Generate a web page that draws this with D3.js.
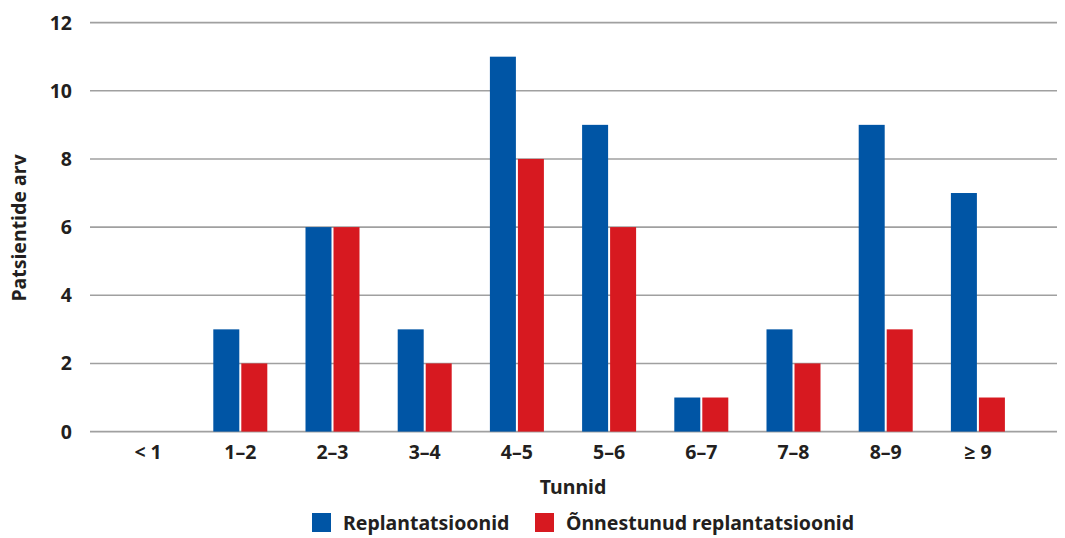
<!DOCTYPE html>
<html>
<head>
<meta charset="utf-8">
<script src="https://cdn.jsdelivr.net/npm/d3@7"></script>
<style>
  html, body { margin: 0; padding: 0; background: #fff; }
  text { font-family: "Noto Sans", "Open Sans", sans-serif; font-weight: 700; fill: #231f20; }
</style>
</head>
<body>
<svg id="chart" width="1065" height="538"></svg>
<script>
// Hours-to-replantation categories and patient counts
const categories = ["< 1", "1–2", "2–3", "3–4", "4–5", "5–6", "6–7", "7–8", "8–9", "≥ 9"];
const replantations = [0, 3, 6, 3, 11, 9, 1, 3, 9, 7];
const successful = [0, 2, 6, 2, 8, 6, 1, 2, 3, 1];
const yTicks = [0, 2, 4, 6, 8, 10, 12];
const seriesNames = ["Replantatsioonid", "Õnnestunud replantatsioonid"];
const seriesColors = ["#0055a5", "#d71920"];

const svg = d3.select("#chart");
const fs = 19.5;

const gridLeft = 90, gridRight = 1057;
const x = d3.scaleBand().domain(categories).range([102, 1024]);
const y = d3.scaleLinear().domain([0, 12]).range([431.6, 22.6]);

const barW = 26, gap = 2;

// horizontal gridlines
svg.append("g").selectAll("line").data(yTicks).join("line")
  .attr("x1", gridLeft).attr("x2", gridRight)
  .attr("y1", d => y(d)).attr("y2", d => y(d))
  .attr("stroke", "#a0a0a0").attr("stroke-width", 1.6);

// y tick labels
svg.append("g").selectAll("text").data(yTicks).join("text")
  .attr("x", 72).attr("y", d => y(d)).attr("dy", "0.36em")
  .attr("text-anchor", "end").attr("font-size", fs)
  .text(d => d);

// bars
const rows = categories.map((c, i) => ({ c, vals: [replantations[i], successful[i]] }));
const groups = svg.append("g").selectAll("g").data(rows).join("g")
  .attr("transform", d => `translate(${x(d.c) + x.bandwidth() / 2},0)`);
groups.selectAll("rect").data(d => d.vals.filter(v => v > 0).map((v, k) => ({ v, k })))
  .join("rect")
  .attr("x", d => d.k === 0 ? -barW - gap / 2 : gap / 2)
  .attr("width", barW)
  .attr("y", d => y(d.v))
  .attr("height", d => y(0) - y(d.v))
  .attr("fill", d => seriesColors[d.k]);

// x tick labels
svg.append("g").selectAll("text").data(categories).join("text")
  .attr("x", d => x(d) + x.bandwidth() / 2).attr("y", 459)
  .attr("text-anchor", "middle").attr("font-size", fs)
  .text(d => d);

// axis titles
svg.append("text").attr("x", 573).attr("y", 494)
  .attr("text-anchor", "middle").attr("font-size", fs).text("Tunnid");
svg.append("text").attr("transform", "translate(26,228) rotate(-90)")
  .attr("text-anchor", "middle").attr("font-size", fs).text("Patsientide arv");

// legend
const legendX = [312, 535];
const lg = svg.append("g").selectAll("g").data(seriesNames).join("g")
  .attr("transform", (d, i) => `translate(${legendX[i]},513)`);
lg.append("rect").attr("width", 19).attr("height", 19).attr("fill", (d, i) => seriesColors[i]);
lg.append("text").attr("x", 31).attr("y", 10).attr("dy", "0.36em")
  .attr("font-size", fs).text(d => d);
</script>
</body>
</html>
